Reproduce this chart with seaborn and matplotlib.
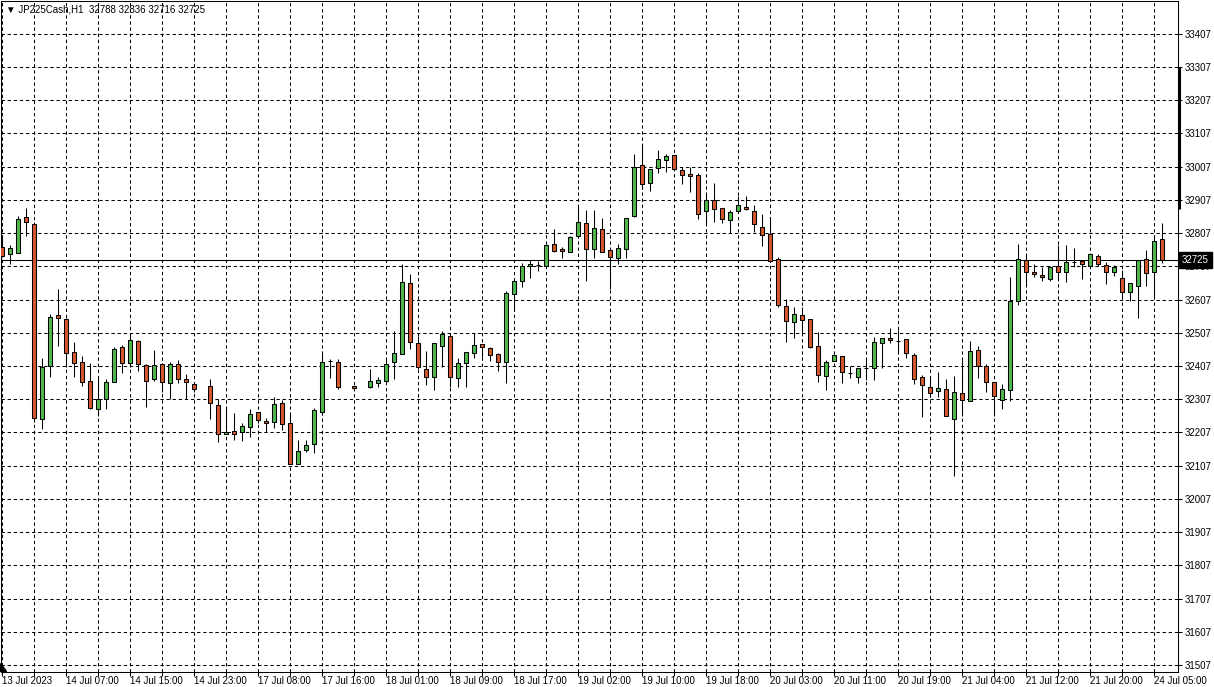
import numpy as np
import pandas as pd
import matplotlib
matplotlib.use("Agg")
import matplotlib.pyplot as plt
import matplotlib.transforms as mtransforms
import seaborn as sns

symbol_title = "\u25BC JP225Cash,H1  32788 32836 32716 32725"
last_price = 32725

opens = [32765, 32745, 32748, 32857, 32835, 32247, 32407, 32560, 32547, 32448,
         32420, 32363, 32277, 32308, 32360, 32463, 32415, 32482, 32410, 32367,
         32412, 32355, 32412, 32367, 32352, np.nan, 32347, 32290, 32202, 32211,
         32208, 32223, 32268, 32242, 32238, 32295, 32235, 32112, 32153, 32172,
         32270, 32423, 32418, np.nan, 32347, np.nan, 32345, 32357, 32361, 32418,
         32442, 32658, 32475, 32398, 32375, 32468, 32496, 32370, 32415, 32445,
         32472, 32460, 32442, 32418, 32625, 32664, 32707, 32711, 32709, 32773,
         32759, 32749, 32799, 32836, 32758, 32818, 32755, 32731, 32758, 32859,
         33013, 32959, 33004, 33028, 33043, 32998, 32986, 32983, 32873, 32908,
         32884, 32846, 32874, 32887, 32875, 32824, 32804, 32728, 32588, 32539,
         32560, 32548, 32466, 32376, 32423, 32436, 32385, 32374, 32400, 32401,
         32476, 32490, 32483, 32488, 32439, 32373, 32343, 32333, 32337, 32247,
         32325, 32301, 32454, 32407, 32360, 32304, 32334, 32602, 32727, 32691,
         32682, 32670, 32709, 32691, 32721, 32722, 32709, 32739, 32712, 32691,
         32673, 32631, 32649, 32730, 32691, 32788]
highs = [32800, 32770, 32860, 32883, 32840, 32430, 32565, 32638, 32550, 32478,
         32437, 32415, 32370, 32367, 32465, 32470, 32500, 32485, 32412, 32455,
         32415, 32419, 32425, 32383, 32357, np.nan, 32368, 32307, 32285, 32267,
         32235, 32277, 32268, 32250, 32315, 32305, 32263, 32183, 32185, 32280,
         32443, 32428, 32427, np.nan, 32347, np.nan, 32398, 32373, 32425, 32512,
         32715, 32683, 32498, 32452, 32475, 32512, 32496, 32430, 32448, 32505,
         32472, 32463, 32445, 32633, 32664, 32717, 32725, 32723, 32770, 32818,
         32764, 32799, 32893, 32878, 32878, 32851, 32755, 32774, 32854, 33044,
         33074, 33001, 33058, 33044, 33043, 33006, 33006, 32988, 32929, 32958,
         32884, 32878, 32918, 32918, 32893, 32864, 32856, 32734, 32608, 32584,
         32584, 32548, 32508, 32424, 32441, 32436, 32406, 32401, 32426, 32494,
         32492, 32520, 32515, 32488, 32445, 32379, 32370, 32388, 32367, 32377,
         32425, 32482, 32467, 32412, 32360, 32353, 32674, 32775, 32745, 32715,
         32706, 32709, 32770, 32770, 32763, 32727, 32745, 32745, 32719, 32710,
         32695, 32658, 32727, 32755, 32802, 32836]
lows = [32735, 32715, 32748, 32798, 32238, 32217, 32375, 32468, 32405, 32373,
        32347, 32277, 32255, 32277, 32360, 32387, 32403, 32393, 32283, 32362,
        32328, 32307, 32355, 32307, 32330, np.nan, 32247, 32177, 32202, 32183,
        32180, 32192, 32235, 32207, 32220, 32215, 32112, 32112, 32147, 32144,
        32270, 32372, 32337, np.nan, 32335, np.nan, 32342, 32345, 32360, 32368,
        32442, 32457, 32397, 32350, 32335, 32405, 32345, 32345, 32345, 32432,
        32435, 32423, 32393, 32355, 32580, 32645, 32672, 32693, 32709, 32749,
        32731, 32749, 32796, 32664, 32731, 32751, 32640, 32713, 32731, 32856,
        32939, 32934, 32989, 32991, 32998, 32956, 32931, 32848, 32833, 32841,
        32836, 32806, 32874, 32878, 32811, 32769, 32722, 32584, 32478, 32491,
        32506, 32461, 32358, 32334, 32421, 32356, 32370, 32356, 32366, 32366,
        32401, 32475, 32450, 32430, 32352, 32253, 32313, 32315, 32255, 32077,
        32255, 32301, 32370, 32330, 32257, 32277, 32303, 32590, 32652, 32675,
        32662, 32664, 32670, 32661, 32706, 32669, 32705, 32709, 32655, 32679,
        32615, 32603, 32552, 32649, 32612, 32716]
closes = [32738, 32763, 32850, 32840, 32250, 32403, 32553, 32550, 32445, 32415,
          32360, 32280, 32307, 32358, 32457, 32417, 32484, 32413, 32363, 32409,
          32358, 32413, 32367, 32358, 32337, np.nan, 32295, 32202, 32208, 32202,
          32227, 32263, 32244, 32235, 32293, 32232, 32112, 32151, 32169, 32274,
          32418, 32423, 32343, np.nan, 32340, np.nan, 32361, 32364, 32412, 32445,
          32661, 32478, 32403, 32373, 32475, 32502, 32373, 32415, 32448, 32469,
          32463, 32439, 32420, 32628, 32664, 32709, 32713, 32711, 32770, 32754,
          32752, 32794, 32839, 32758, 32821, 32751, 32734, 32761, 32854, 33007,
          32956, 33001, 33031, 33038, 33001, 32983, 32980, 32866, 32908, 32881,
          32848, 32872, 32893, 32880, 32833, 32801, 32722, 32590, 32541, 32564,
          32545, 32463, 32380, 32419, 32439, 32389, 32385, 32401, 32400, 32479,
          32492, 32484, 32483, 32445, 32367, 32349, 32325, 32340, 32255, 32328,
          32304, 32451, 32407, 32358, 32318, 32337, 32602, 32730, 32691, 32685,
          32676, 32706, 32691, 32721, 32721, 32715, 32745, 32715, 32691, 32706,
          32631, 32658, 32727, 32688, 32784, 32725]

time_labels = ["13 Jul 2023", "14 Jul 07:00", "14 Jul 15:00", "14 Jul 23:00",
               "17 Jul 08:00", "17 Jul 16:00", "18 Jul 01:00", "18 Jul 09:00",
               "18 Jul 17:00", "19 Jul 02:00", "19 Jul 10:00", "19 Jul 18:00",
               "20 Jul 03:00", "20 Jul 11:00", "20 Jul 19:00", "21 Jul 04:00",
               "21 Jul 12:00", "21 Jul 20:00", "24 Jul 05:00"]
price_ticks = list(range(31507, 33408, 100))

df = pd.DataFrame({"open": opens, "high": highs, "low": lows, "close": closes})
df["bar"] = np.arange(len(df))
df = df.dropna().reset_index(drop=True)
df["up"] = df["close"] >= df["open"]
df["body_lo"] = df[["open", "close"]].min(axis=1)
df["body_h"] = (df["close"] - df["open"]).abs()

sns.set_theme(style="white")
plt.rcParams["font.family"] = ["Liberation Sans", "DejaVu Sans"]
plt.rcParams["lines.scale_dashes"] = False

W, H = 1214, 687
fig = plt.figure(figsize=(W / 100, H / 100), dpi=100)
fig.patch.set_facecolor("white")
ax = fig.add_axes([0.5 / W, 1 - 671.5 / H, 1177 / W, 671 / H])
ax.set_facecolor("white")

GREEN = "#4cb84c"
RED = "#d4572c"
LW = 0.75

ax.vlines(df["bar"], df["low"], df["high"], color="black", lw=LW, zorder=3)
colors = np.where(df["up"], GREEN, RED)
ax.bar(df["bar"], df["body_h"], bottom=df["body_lo"], width=0.55,
       color=colors, edgecolor="black", linewidth=LW, zorder=4)

ax.axhline(last_price, color="black", lw=LW, zorder=2)

n_bars = len(opens)
ax.set_xlim(-0.16, 146.97)
ax.set_ylim(31487.4, 33507.2)

major = np.arange(0, n_bars, 8)
minor = np.arange(0, n_bars, 4)
ax.set_xticks(major)
ax.set_xticklabels(time_labels[:len(major)], ha="left")
ax.set_xticks(minor, minor=True)
ax.yaxis.tick_right()
ax.set_yticks(price_ticks)
ax.set_yticklabels([str(v) for v in price_ticks])

dash = (0, (2.4, 2.0))
ax.grid(True, which="both", axis="x", color="black", lw=LW, linestyle=dash, zorder=1)
ax.grid(True, which="major", axis="y", color="black", lw=LW, linestyle=dash, zorder=1)
ax.set_axisbelow(True)

ax.tick_params(axis="x", which="both", direction="out", length=3, width=LW,
               color="black", labelsize=7, pad=0.5, labelcolor="black", bottom=True)
ax.tick_params(axis="y", which="both", direction="out", length=3, width=LW,
               color="black", labelsize=7, pad=2.5, labelcolor="black", right=True, left=False)
for s in ax.spines.values():
    s.set_color("black")
    s.set_linewidth(LW)
    s.set_visible(True)

ax.text(5 / 1177, 1 - 9 / 671, symbol_title, transform=ax.transAxes,
        fontsize=7, va="center", ha="left", color="black", zorder=10)

trans = mtransforms.blended_transform_factory(ax.transAxes, ax.transData)
ax.text(1.0 + 4.5 / 1177, last_price, str(last_price), transform=trans,
        fontsize=7, va="center", ha="left", color="white", zorder=20, clip_on=False,
        bbox=dict(boxstyle="square,pad=0.3", fc="black", ec="black"))

ax.plot([1.0 + 1.5 / 1177] * 2, [1 - 66.5 / 671, 1 - 208 / 671], transform=ax.transAxes,
        color="black", lw=2.2, clip_on=False, zorder=15, solid_capstyle="butt")

corner = plt.Polygon([[0, 0], [0, 8 / 671], [6 / 1177, 0]], closed=True,
                     transform=ax.transAxes, color="black", zorder=15, clip_on=False)
ax.add_patch(corner)

fig.savefig("out.png", dpi=100, facecolor="white")
